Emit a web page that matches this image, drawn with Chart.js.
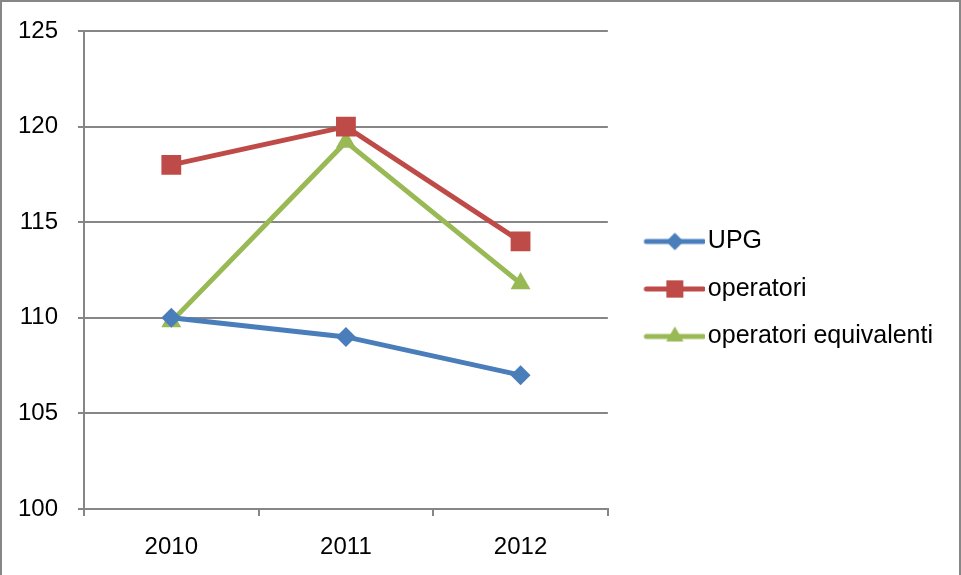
<!DOCTYPE html>
<html>
<head>
<meta charset="utf-8">
<script src="https://cdn.jsdelivr.net/npm/chart.js@4.4.1/dist/chart.umd.min.js"></script>
<style>
  html, body { margin: 0; padding: 0; background: #fff; }
  #box { width: 961px; height: 575px; box-sizing: border-box; border: 2px solid #878787; border-bottom: none; position: relative; }
  #chart { display: block; }
</style>
</head>
<body>
<div id="box"><canvas id="chart" width="957" height="573"></canvas></div>
<script>
const years = ["2010", "2011", "2012"];
const upg = [110, 109, 107];
const operatori = [118, 120, 114];
const operatoriEquivalenti = [109.8, 119.2, 111.8];
const yTicks = [100, 105, 110, 115, 120, 125];

const FONT = "'Liberation Sans', Arial, sans-serif";
const BLUE = "#4a7ebb", RED = "#be4b48", GREEN = "#98b954";
const GRID = "#868686";

// legend symbol: line with marker in the middle
function legendIcon(color, style, radius) {
  const c = document.createElement("canvas");
  c.width = 85; c.height = 28;
  const g = c.getContext("2d");
  g.strokeStyle = color;
  g.lineWidth = 5;
  g.lineCap = "round";
  g.beginPath(); g.moveTo(26, 14); g.lineTo(83, 14); g.stroke();
  g.fillStyle = color;
  Chart.helpers.drawPoint(g, { pointStyle: style, radius: radius, rotation: 0, borderWidth: 0 }, 54.5, 14);
  g.fill();
  return c;
}

const series = [
  { label: "UPG", data: upg, color: BLUE, style: "rectRot", r: 10 },
  { label: "operatori", data: operatori, color: RED, style: "rect", r: 14 },
  { label: "operatori equivalenti", data: operatoriEquivalenti, color: GREEN, style: "triangle", r: 11.5 }
];

new Chart(document.getElementById("chart"), {
  type: "line",
  data: {
    labels: years,
    datasets: series.map(s => ({
      label: s.label,
      data: s.data,
      borderColor: s.color,
      backgroundColor: s.color,
      borderWidth: 5,
      pointStyle: s.style,
      pointRadius: s.r,
      pointHoverRadius: s.r,
      pointBorderWidth: 0,
      tension: 0
    }))
  },
  options: {
    responsive: false,
    animation: false,
    layout: { padding: { left: 0, top: 1, right: 16, bottom: 0 } },
    plugins: {
      tooltip: { enabled: false },
      legend: {
        position: "right",
        maxWidth: 500,
        labels: {
          font: { family: FONT, size: 25 },
          color: "#000",
          usePointStyle: true,
          pointStyleWidth: 65,
          padding: 22.5,
          generateLabels: chart => series.map((s, i) => ({
            text: s.label,
            datasetIndex: i,
            pointStyle: legendIcon(s.color, s.style, s.r * 0.85),
            fillStyle: s.color,
            strokeStyle: s.color,
            lineWidth: 0,
            fontColor: "#000"
          }))
        }
      }
    },
    scales: {
      x: {
        offset: true,
        afterFit: scale => { scale.height = 66; scale.paddingLeft = 0; scale.paddingRight = 0; },
        grid: { display: true, offset: true, drawOnChartArea: false, color: GRID, lineWidth: 2, tickLength: 7 },
        border: { display: true, color: GRID, width: 2 },
        ticks: { font: { family: FONT, size: 24 }, color: "#000", padding: 17 }
      },
      y: {
        min: 100,
        max: 125,
        afterFit: scale => { scale.width = 82; scale.paddingTop = 29; scale.paddingBottom = 0; },
        afterBuildTicks: scale => { scale.ticks = yTicks.map(v => ({ value: v })); },
        grid: { color: GRID, lineWidth: 2, tickLength: 6 },
        border: { display: true, color: GRID, width: 2 },
        ticks: { font: { family: FONT, size: 24 }, color: "#000", padding: 20 }
      }
    }
  }
});
</script>
</body>
</html>
